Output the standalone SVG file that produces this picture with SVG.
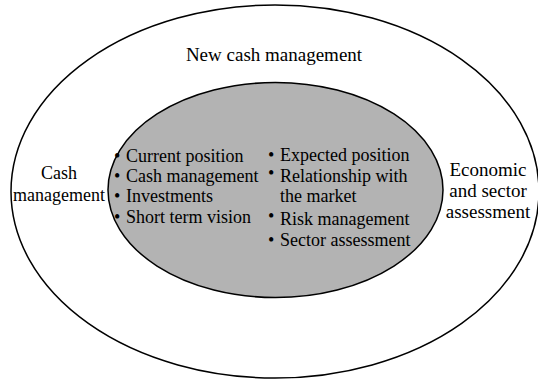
<svg xmlns="http://www.w3.org/2000/svg" width="538" height="381" viewBox="0 0 538 381">
<style>
  .t { font-family: "Liberation Serif", "Times New Roman", serif; font-size: 18px; fill: #000; }
  .b { font-size: 19px; }
  .m { text-anchor: middle; }
  .ring { stroke: #000; stroke-width: 1.5; }
</style>
<rect width="538" height="381" fill="#fff"/>
<g id="outer">
  <ellipse class="ring" cx="275" cy="191.5" rx="264" ry="186.5" fill="#fff"/>
  <text class="t b m" x="274" y="61">New cash management</text>
</g>
<g id="cash-management">
  <text class="t m" x="59" y="179">Cash</text>
  <text class="t m" x="59" y="201">management</text>
</g>
<g id="economic">
  <text class="t b m" x="488" y="176">Economic</text>
  <text class="t b m" x="488" y="197">and sector</text>
  <text class="t b m" x="488" y="218">assessment</text>
</g>
<g id="inner">
  <ellipse class="ring" cx="275.5" cy="190" rx="167.5" ry="107.5" fill="#b3b3b3"/>
  <g id="left-list">
    <text class="t" x="114" y="162">•</text><text class="t" x="126" y="162">Current position</text>
    <text class="t" x="114" y="182">•</text><text class="t" x="126" y="182">Cash management</text>
    <text class="t" x="114" y="202">•</text><text class="t" x="126" y="202">Investments</text>
    <text class="t" x="114" y="223">•</text><text class="t" x="126" y="223">Short term vision</text>
  </g>
  <g id="right-list">
    <text class="t" x="268" y="161">•</text><text class="t" x="280" y="161">Expected position</text>
    <text class="t" x="268" y="182"><tspan dy="-3">•</tspan><tspan x="280" dy="3">Relationship with</tspan></text>
    <text class="t" x="280" y="202">the market</text>
    <text class="t" x="268" y="225"><tspan dy="-3">•</tspan><tspan x="280" dy="3">Risk management</tspan></text>
    <text class="t" x="268" y="246">•</text><text class="t" x="280" y="246">Sector assessment</text>
  </g>
</g>
</svg>
